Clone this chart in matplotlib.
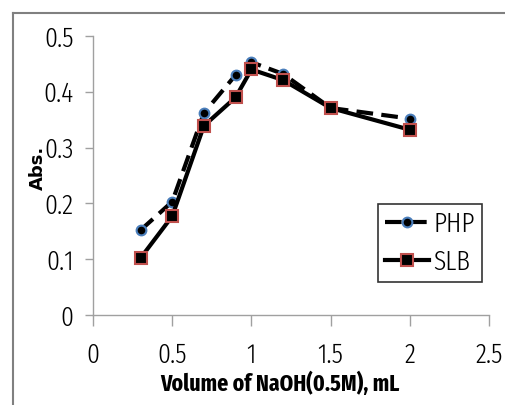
import matplotlib
matplotlib.use('Agg')
import matplotlib.pyplot as plt
from matplotlib.lines import Line2D

# Дані
volume = [0.3, 0.5, 0.7, 0.9, 1.0, 1.2, 1.5, 2.0]
php = [0.152, 0.203, 0.362, 0.430, 0.453, 0.432, 0.371, 0.352]
slb = [0.102, 0.177, 0.339, 0.390, 0.440, 0.421, 0.371, 0.332]

x_ticks = [0, 0.5, 1, 1.5, 2, 2.5]
x_labels = ['0', '0.5', '1', '1.5', '2', '2.5']
y_ticks = [0, 0.1, 0.2, 0.3, 0.4, 0.5]
y_labels = ['0', '0.1', '0.2', '0.3', '0.4', '0.5']

narrow = ['Fira Sans Extra Condensed', 'Barlow Condensed', 'DejaVu Sans']

fig = plt.figure(figsize=(5.05, 4.05), dpi=100)
ax = fig.add_axes([93 / 505, 1 - 315 / 405, (489 - 93) / 505, (315 - 36) / 405])

ax.plot(volume, php, color='black', lw=3, dashes=(4, 2),
        marker='o', ms=7, mfc='black', mec='#4a7ebb', mew=1.5, label='PHP')
ax.plot(volume, slb, color='black', lw=3,
        marker='s', ms=8, mfc='black', mec='#c0504d', mew=1.5, label='SLB')

ax.set_xlim(0, 2.5)
ax.set_ylim(0, 0.5)
ax.set_xticks(x_ticks)
ax.set_xticklabels(x_labels, family=narrow, fontsize=20, fontweight=300)
ax.set_yticks(y_ticks)
ax.set_yticklabels(y_labels, family=narrow, fontsize=20, fontweight=300)
ax.tick_params(axis='x', length=8, width=1, color='#a0a0a0', pad=11)
ax.tick_params(axis='y', length=6, width=1, color='#a0a0a0', pad=8)

for s in ['top', 'right']:
    ax.spines[s].set_visible(False)
for s in ['left', 'bottom']:
    ax.spines[s].set_color('#a0a0a0')
    ax.spines[s].set_linewidth(1)

ax.set_xlabel('Volume of NaOH(0.5M), mL', family=narrow, fontweight='bold', fontsize=17)
ax.xaxis.set_label_coords((280 - 93) / (489 - 93), -(372 - 315) / (315 - 36))
ax.set_ylabel('Abs.', family=['DejaVu Sans'], fontweight='bold', fontsize=13)
ax.yaxis.set_label_coords(-(93 - 47) / (489 - 93), (315 - 168) / (315 - 36))

leg = ax.legend(loc='upper left', bbox_to_anchor=(378 / 505, 1 - 204 / 405),
                bbox_transform=fig.transFigure, borderaxespad=0, fancybox=False,
                frameon=True, edgecolor='black',
                prop={'family': narrow, 'size': 20, 'weight': 300},
                handlelength=1.6, borderpad=0.25, labelspacing=0.4, handletextpad=0.15)
leg.get_frame().set_linewidth(1.2)

# рамка навколо області графіка
fig.add_artist(Line2D([13 / 505, 1], [1 - 13 / 405, 1 - 13 / 405], color='#808080', lw=1.5))
fig.add_artist(Line2D([13 / 505, 13 / 505], [0, 1 - 13 / 405], color='#808080', lw=1.5))

fig.savefig('out.png', dpi=100)
